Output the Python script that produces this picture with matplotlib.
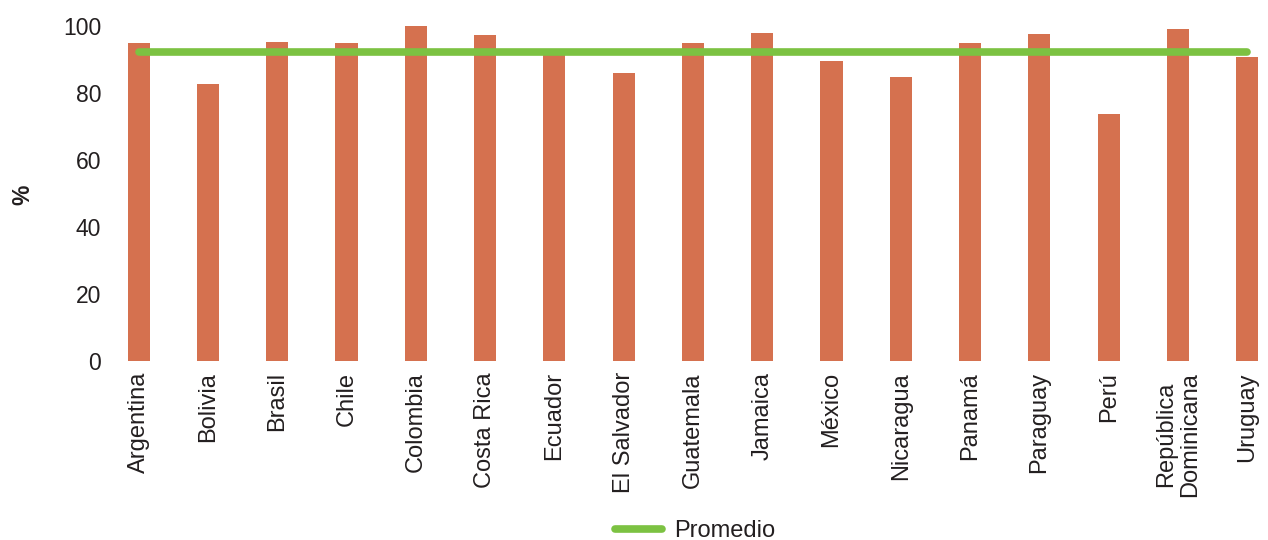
import numpy as np
import matplotlib.pyplot as plt

plt.rcParams['font.family'] = ['Liberation Sans', 'DejaVu Sans']

# Datos por país (%)
paises = ["Argentina", "Bolivia", "Brasil", "Chile", "Colombia", "Costa Rica",
          "Ecuador", "El Salvador", "Guatemala", "Jamaica", "México", "Nicaragua",
          "Panamá", "Paraguay", "Perú", "República\nDominicana", "Uruguay"]
valores = [94.9, 82.7, 95.2, 94.9, 100.0, 97.3, 92.0, 86.0, 94.9, 97.9,
           89.6, 84.8, 94.9, 97.6, 73.7, 99.1, 90.7]
promedio = 92.2

color_barra = "#D5714F"
color_prom = "#7CC242"
color_texto = "#231F20"

fig = plt.figure(figsize=(12.68, 5.4), dpi=100)
ax = fig.add_axes([0.082, 0.3315, 0.918, 0.6204])

x = np.arange(len(paises))
ax.bar(x, valores, width=0.32, color=color_barra, zorder=2)
ax.plot(x, [promedio] * len(x), color=color_prom, linewidth=5.5,
        solid_capstyle="round", label="Promedio", zorder=3)

ax.set_xlim(-0.5, 16.3)
ax.set_ylim(0, 100)
ax.set_yticks(range(0, 101, 20))
ax.set_xticks(x)
ax.set_xticklabels(paises, rotation=90, ha="center", va="top",
                   linespacing=1.12, fontsize=17)
ax.tick_params(axis="both", length=0, colors=color_texto)
ax.tick_params(axis="y", labelsize=16.5, pad=2)
ax.tick_params(axis="x", pad=8)
for s in ax.spines.values():
    s.set_visible(False)

fig.text(0.018, 0.64, "%", rotation=90, fontsize=16.5, fontweight="bold",
         color=color_texto, ha="center", va="center")

fig.legend(loc="center", bbox_to_anchor=(0.548, 0.016), frameon=False,
           fontsize=17, handlelength=2.0, handletextpad=0.5,
           labelcolor=color_texto)

fig.savefig("out.png", dpi=100)
